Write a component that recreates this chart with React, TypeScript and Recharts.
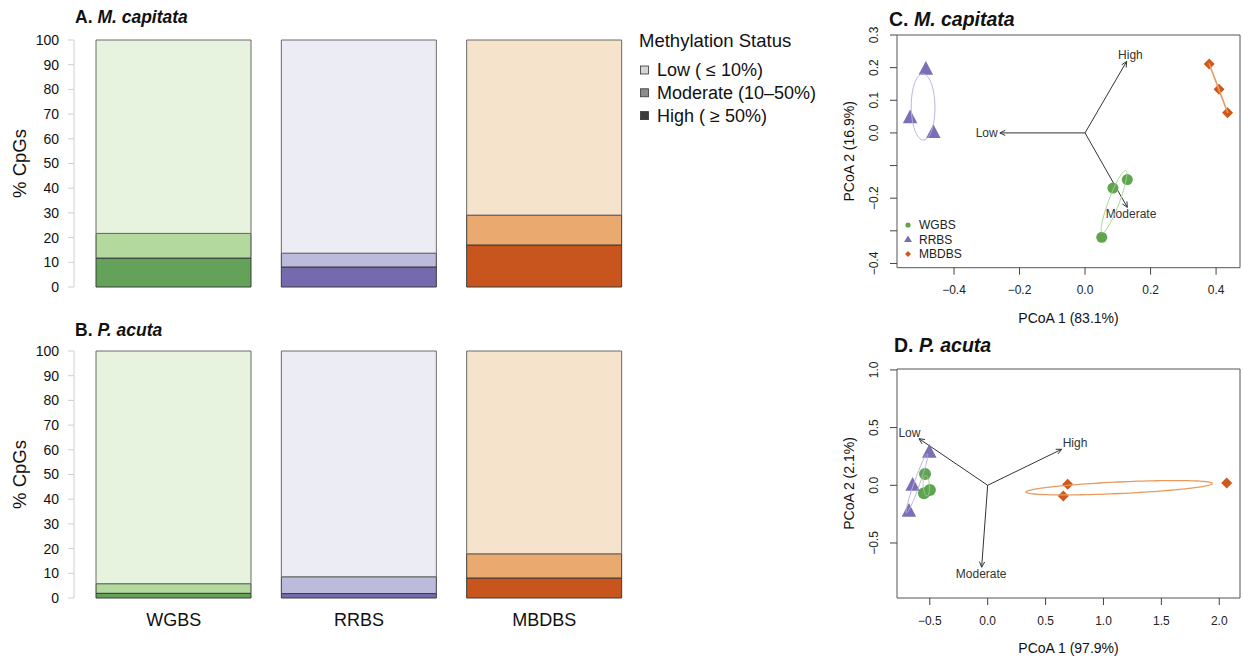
import React from 'react';
import { BarChart, Bar, Cell, XAxis, YAxis, Legend, ScatterChart, Scatter, ReferenceArea, ReferenceLine } from 'recharts';

const FONT = '"Liberation Sans", Arial, Helvetica, sans-serif';

// ---- % CpGs per methylation status (stacked bars) ----
const methods = ['WGBS', 'RRBS', 'MBDBS'];
const mcapHigh = [11.7, 8.1, 17.0];
const mcapModerate = [10.0, 5.6, 12.1];
const mcapLow = [78.3, 86.3, 70.9];
const pactHigh = [1.9, 1.8, 8.1];
const pactModerate = [3.9, 6.8, 9.8];
const pactLow = [94.2, 91.4, 82.1];
const pctTicks = [0, 10, 20, 30, 40, 50, 60, 70, 80, 90, 100];

const statusLabels = ['Low ( \u2264 10%)', 'Moderate (10\u201350%)', 'High ( \u2265 50%)'];

// ---- PCoA scores ----
const mcapWgbs = [{ x: 0.129, y: -0.143 }, { x: 0.085, y: -0.169 }, { x: 0.051, y: -0.32 }];
const mcapRrbs = [{ x: -0.486, y: 0.194 }, { x: -0.534, y: 0.045 }, { x: -0.463, y: 0.0 }];
const mcapMbdbs = [{ x: 0.379, y: 0.211 }, { x: 0.409, y: 0.134 }, { x: 0.435, y: 0.062 }];
const mcapArrows = [
  { name: 'Low', x: -0.26, y: 0.0 },
  { name: 'High', x: 0.127, y: 0.219 },
  { name: 'Moderate', x: 0.129, y: -0.228 },
];

const pactWgbs = [{ x: -0.541, y: 0.098 }, { x: -0.55, y: -0.069 }, { x: -0.499, y: -0.041 }];
const pactRrbs = [{ x: -0.504, y: 0.283 }, { x: -0.648, y: -0.003 }, { x: -0.68, y: -0.229 }];
const pactMbdbs = [{ x: 0.691, y: 0.009 }, { x: 0.653, y: -0.093 }, { x: 2.064, y: 0.02 }];
const pactArrows = [
  { name: 'Low', x: -0.593, y: 0.404 },
  { name: 'High', x: 0.639, y: 0.312 },
  { name: 'Moderate', x: -0.052, y: -0.71 },
];

const mcapXTicks = [-0.4, -0.2, 0, 0.2, 0.4];
const mcapYTicks = [0.3, 0.2, 0.1, 0, -0.1, -0.2, -0.3, -0.4];
const pactXTicks = [-0.5, 0, 0.5, 1, 1.5, 2];
const pactYTicks = [1, 0.5, 0, -0.5];

// colours
const lowColors = ['#e7f3df', '#ececf5', '#f6e3cc'];
const modColors = ['#b3d99f', '#bcbbdc', '#eaa96e'];
const highColors = ['#64a25a', '#746aad', '#c9551e'];
const swatches = ['#d4d4d4', '#8c8c8c', '#3c3c3c'];
const pointColors = { WGBS: '#5fa550', RRBS: '#7a6eb6', MBDBS: '#d0581d' };
const ellipseColors = { WGBS: '#a6d38f', RRBS: '#b8b3da', MBDBS: '#e99a5e' };

const toBars = (high: number[], mod: number[], low: number[]) =>
  methods.map((m, i) => ({ method: m, high: high[i], moderate: mod[i], low: low[i] }));

const mcapBars = toBars(mcapHigh, mcapModerate, mcapLow);
const pactBars = toBars(pactHigh, pactModerate, pactLow);

// standard deviation ellipse (like vegan::ordiellipse kind = "sd")
const sdEllipse = (pts: { x: number; y: number }[], n = 120) => {
  const k = pts.length;
  const mx = pts.reduce((s, p) => s + p.x, 0) / k;
  const my = pts.reduce((s, p) => s + p.y, 0) / k;
  let a = 0, b = 0, d = 0;
  pts.forEach((p) => {
    a += (p.x - mx) ** 2;
    b += (p.x - mx) * (p.y - my);
    d += (p.y - my) ** 2;
  });
  a /= k - 1; b /= k - 1; d /= k - 1;
  const tr = (a + d) / 2;
  const disc = Math.sqrt(((a - d) / 2) ** 2 + b * b);
  const l1 = Math.max(tr + disc, 0), l2 = Math.max(tr - disc, 0);
  const th = 0.5 * Math.atan2(2 * b, a - d);
  const out = [];
  for (let i = 0; i <= n; i++) {
    const t = (i / n) * Math.PI * 2;
    const u = Math.sqrt(l1) * Math.cos(t), v = Math.sqrt(l2) * Math.sin(t);
    out.push({ x: mx + u * Math.cos(th) - v * Math.sin(th), y: my + u * Math.sin(th) + v * Math.cos(th) });
  }
  return out;
};

const fmt = (v: number) => (Math.abs(v) < 1e-9 ? '0.0' : v.toFixed(1)).replace('-', '\u2212');

let measureCtx: CanvasRenderingContext2D | null = null;
const measureText = (s: string, size: number) => {
  if (!measureCtx) measureCtx = document.createElement('canvas').getContext('2d');
  if (!measureCtx) return s.length * size * 0.55;
  measureCtx.font = `${size}px "Liberation Sans", Arial`;
  return measureCtx.measureText(s).width;
};

// arrow + label placed like vegan's ordiArrowTextXY
const arrowShape = (name: string) => (p: any) => {
  const { x1, y1, x2, y2 } = p;
  const ang = Math.atan2(y2 - y1, x2 - x1);
  const hl = 6;
  const a1 = ang + Math.PI - Math.PI / 7;
  const a2 = ang + Math.PI + Math.PI / 7;
  const w = measureText(name, 12);
  const h = 12 * 0.72;
  const dx = x2 - x1;
  const dyUp = y1 - y2;
  let ox = Math.sign(dx) * (w / 2 + h / 4);
  let oy = 0.75 * h * Math.sign(dyUp);
  const b = dyUp / dx;
  const move = oy / b;
  if (isFinite(move) && Math.abs(move) <= Math.abs(ox)) ox = move;
  else oy = b * ox;
  return (
    <g>
      <line x1={x1} y1={y1} x2={x2} y2={y2} stroke="#333" strokeWidth={1} />
      <polyline
        points={`${x2 + hl * Math.cos(a1)},${y2 + hl * Math.sin(a1)} ${x2},${y2} ${x2 + hl * Math.cos(a2)},${y2 + hl * Math.sin(a2)}`}
        fill="none"
        stroke="#333"
        strokeWidth={1}
      />
      <text x={x2 + ox} y={y2 - oy} dy="0.36em" textAnchor="middle" fontSize={12} fill="#333">
        {name}
      </text>
    </g>
  );
};

const circleShape = (r: number, fill: string) => (p: any) => <circle cx={p.cx} cy={p.cy} r={r} fill={fill} />;
const triangleShape = (s: number, fill: string) => (p: any) => (
  <polygon
    points={`${p.cx},${p.cy - s * 0.6} ${p.cx - s / 2},${p.cy + s * 0.35} ${p.cx + s / 2},${p.cy + s * 0.35}`}
    fill={fill}
  />
);
const diamondShape = (r: number, fill: string) => (p: any) => (
  <polygon points={`${p.cx},${p.cy - r} ${p.cx + r},${p.cy} ${p.cx},${p.cy + r} ${p.cx - r},${p.cy}`} fill={fill} />
);
const noShape = () => <g />;

const makeRotTick = (hidden: number[]) => (props: any) => {
  const { x, y, payload } = props;
  const v = payload.value;
  if (hidden.some((hv) => Math.abs(hv - v) < 1e-9)) return <g />;
  return (
    <text x={x} y={y} transform={`rotate(-90, ${x}, ${y})`} textAnchor="middle" fontSize={12} fill="#222">
      {fmt(v)}
    </text>
  );
};

const VLabel = (props: any) => {
  const { viewBox, text, shift, size } = props;
  const cx = viewBox.x + shift;
  const cy = viewBox.y + viewBox.height / 2;
  return (
    <text x={cx} y={cy} dy="0.36em" transform={`rotate(-90, ${cx}, ${cy})`} textAnchor="middle" fontSize={size} fill="#111">
      {text}
    </text>
  );
};

const HLabel = (props: any) => {
  const { viewBox, text } = props;
  return (
    <text x={viewBox.x + viewBox.width / 2} y={viewBox.y + viewBox.height} textAnchor="middle" fontSize={14} fill="#111">
      {text}
    </text>
  );
};

const StatusLegend = () => (
  <svg width={200} height={100} style={{ display: 'block', fontFamily: FONT }}>
    <text x={3} y={18.7} fontSize={18.5} fill="#111">Methylation Status</text>
    {statusLabels.map((s, i) => (
      <g key={s}>
        <rect x={4.5} y={48 + i * 22.8 - 10} width={8} height={8} fill={swatches[i]} stroke="#333" strokeWidth={0.8} />
        <text x={21} y={48 + i * 22.8} fontSize={18} fill="#111">{s}</text>
      </g>
    ))}
  </svg>
);

const GroupLegend = () => (
  <svg width={80} height={46} style={{ display: 'block', fontFamily: FONT }}>
    {methods.map((m, i) => {
      const cy = 7 + i * 14.5;
      const c = pointColors[m as keyof typeof pointColors];
      let sym;
      if (i === 0) sym = <circle cx={6} cy={cy} r={2.6} fill={c} />;
      else if (i === 1) sym = <polygon points={`6,${cy - 4} 2,${cy + 2.5} 10,${cy + 2.5}`} fill={c} />;
      else sym = <polygon points={`6,${cy - 3} 9,${cy} 6,${cy + 3} 3,${cy}`} fill={c} />;
      return (
        <g key={m}>
          {sym}
          <text x={17} y={cy} dy="0.36em" fontSize={12} fill="#222">{m}</text>
        </g>
      );
    })}
  </svg>
);

const StackBars = () => (
  <>
    <Bar dataKey="high" stackId="a" barSize={155} stroke="#3d3d3d" strokeWidth={1} isAnimationActive={false}>
      {methods.map((m, i) => <Cell key={m} fill={highColors[i]} />)}
    </Bar>
    <Bar dataKey="moderate" stackId="a" barSize={155} stroke="#3d3d3d" strokeWidth={1} isAnimationActive={false}>
      {methods.map((m, i) => <Cell key={m} fill={modColors[i]} />)}
    </Bar>
    <Bar dataKey="low" stackId="a" barSize={155} stroke="#6a6a6a" strokeWidth={1} isAnimationActive={false}>
      {methods.map((m, i) => <Cell key={m} fill={lowColors[i]} />)}
    </Bar>
  </>
);

const pctAxis = (
  <YAxis
    type="number"
    domain={[0, 100]}
    ticks={pctTicks}
    interval={0}
    width={74}
    tickSize={6}
    tickMargin={9}
    axisLine={{ stroke: '#cfcfcf' }}
    tickLine={{ stroke: '#cfcfcf' }}
    tick={{ fontSize: 14, fill: '#111' }}
    label={<VLabel text="% CpGs" shift={19} size={18.5} />}
  />
);

type Pt = { x: number; y: number };
interface PcoaProps {
  wgbs: Pt[]; rrbs: Pt[]; mbdbs: Pt[];
  arrows: { name: string; x: number; y: number }[];
  xDomain: [number, number]; yDomain: [number, number];
  xTicks: number[]; yTicks: number[]; hidden: number[];
  xLabel: string; yLabel: string;
  height: number; top: number; plotH: number; showLegend: boolean;
  circleR: number; triS: number; diaR: number;
}

const PcoaPlot = (p: PcoaProps) => (
  <ScatterChart width={404} height={p.height} margin={{ top: p.top, right: 4, bottom: p.height - p.top - p.plotH - 55, left: 0 }}>
    <XAxis
      type="number"
      dataKey="x"
      domain={p.xDomain}
      allowDataOverflow
      ticks={p.xTicks}
      interval={0}
      tickFormatter={fmt}
      height={55}
      tickSize={7}
      tickMargin={11}
      axisLine={false}
      tickLine={{ stroke: '#444' }}
      tick={{ fontSize: 12, fill: '#222' }}
      label={<HLabel text={p.xLabel} />}
    />
    <YAxis
      type="number"
      dataKey="y"
      domain={p.yDomain}
      allowDataOverflow
      ticks={p.yTicks}
      interval={0}
      width={57}
      tickSize={7}
      tickMargin={12}
      axisLine={false}
      tickLine={{ stroke: '#444' }}
      tick={makeRotTick(p.hidden)}
      label={<VLabel text={p.yLabel} shift={8.5} size={14} />}
    />
    <ReferenceArea x1={p.xDomain[0]} x2={p.xDomain[1]} y1={p.yDomain[0]} y2={p.yDomain[1]} fill="none" stroke="#555" strokeWidth={1} ifOverflow="visible" />
    <Scatter data={p.wgbs} shape={circleShape(p.circleR, pointColors.WGBS)} isAnimationActive={false} />
    <Scatter data={p.rrbs} shape={triangleShape(p.triS, pointColors.RRBS)} isAnimationActive={false} />
    <Scatter data={p.mbdbs} shape={diamondShape(p.diaR, pointColors.MBDBS)} isAnimationActive={false} />
    <Scatter data={sdEllipse(p.wgbs)} fill={ellipseColors.WGBS} line={{ stroke: ellipseColors.WGBS, strokeWidth: 1 }} lineType="joint" shape={noShape} isAnimationActive={false} />
    <Scatter data={sdEllipse(p.rrbs)} fill={ellipseColors.RRBS} line={{ stroke: ellipseColors.RRBS, strokeWidth: 1 }} lineType="joint" shape={noShape} isAnimationActive={false} />
    <Scatter data={sdEllipse(p.mbdbs)} fill={ellipseColors.MBDBS} line={{ stroke: ellipseColors.MBDBS, strokeWidth: 1.3 }} lineType="joint" shape={noShape} isAnimationActive={false} />
    {p.arrows.map((a) => (
      <ReferenceLine key={a.name} segment={[{ x: 0, y: 0 }, { x: a.x, y: a.y }]} ifOverflow="visible" shape={arrowShape(a.name)} />
    ))}
    {p.showLegend && (
      <Legend layout="horizontal" verticalAlign="middle" align="center" wrapperStyle={{ left: 62, top: 218, width: 80 }} content={GroupLegend} />
    )}
  </ScatterChart>
);

const Title = ({ left, top, size, lead, species }: { left: number; top: number; size: number; lead: string; species: string }) => (
  <div style={{ position: 'absolute', left, top, fontSize: size, lineHeight: `${size}px`, fontWeight: 'bold', whiteSpace: 'nowrap', color: '#111' }}>
    {lead} <i>{species}</i>
  </div>
);

export default function App() {
  return (
    <div style={{ position: 'absolute', left: 0, top: 0, width: 1244, height: 657, background: '#fff', fontFamily: FONT, overflow: 'hidden' }}>
      <Title left={75} top={9} size={17.5} lead="A." species="M. capitata" />
      <Title left={75} top={322} size={17.5} lead="B." species="P. acuta" />
      <Title left={889} top={9.5} size={19.5} lead="C." species="M. capitata" />
      <Title left={894} top={335.5} size={19.5} lead="D." species="P. acuta" />

      <div style={{ position: 'absolute', left: 0, top: 0 }}>
        <BarChart width={840} height={300} data={mcapBars} margin={{ top: 40, right: 203, bottom: 13, left: 0 }}>
          <XAxis dataKey="method" hide height={0} padding={{ left: 7, right: 0 }} />
          {pctAxis}
          {StackBars()}
          <Legend layout="horizontal" verticalAlign="middle" align="center" wrapperStyle={{ left: 636, top: 28, width: 200 }} content={StatusLegend} />
        </BarChart>
      </div>

      <div style={{ position: 'absolute', left: 0, top: 300 }}>
        <BarChart width={640} height={357} data={pactBars} margin={{ top: 51, right: 3, bottom: 19, left: 0 }}>
          <XAxis
            dataKey="method"
            height={40}
            padding={{ left: 7, right: 0 }}
            axisLine={false}
            tickLine={false}
            tickSize={0}
            tickMargin={15}
            interval={0}
            tick={{ fontSize: 18, fill: '#111' }}
          />
          {pctAxis}
          {StackBars()}
        </BarChart>
      </div>

      <div style={{ position: 'absolute', left: 840, top: 0 }}>
        <PcoaPlot
          wgbs={mcapWgbs} rrbs={mcapRrbs} mbdbs={mcapMbdbs} arrows={mcapArrows}
          xDomain={[-0.574, 0.473]} yDomain={[-0.413, 0.3]}
          xTicks={mcapXTicks} yTicks={mcapYTicks} hidden={[-0.1, -0.3]}
          xLabel="PCoA 1 (83.1%)" yLabel="PCoA 2 (16.9%)"
          height={330} top={35} plotH={232.7} showLegend
          circleR={5.5} triS={14.5} diaR={5.5}
        />
      </div>

      <div style={{ position: 'absolute', left: 840, top: 330 }}>
        <PcoaPlot
          wgbs={pactWgbs} rrbs={pactRrbs} mbdbs={pactMbdbs} arrows={pactArrows}
          xDomain={[-0.783, 2.179]} yDomain={[-0.977, 1.008]}
          xTicks={pactXTicks} yTicks={pactYTicks} hidden={[]}
          xLabel="PCoA 1 (97.9%)" yLabel="PCoA 2 (2.1%)"
          height={327} top={39} plotH={229} showLegend={false}
          circleR={6} triS={14.5} diaR={5.5}
        />
      </div>
    </div>
  );
}
